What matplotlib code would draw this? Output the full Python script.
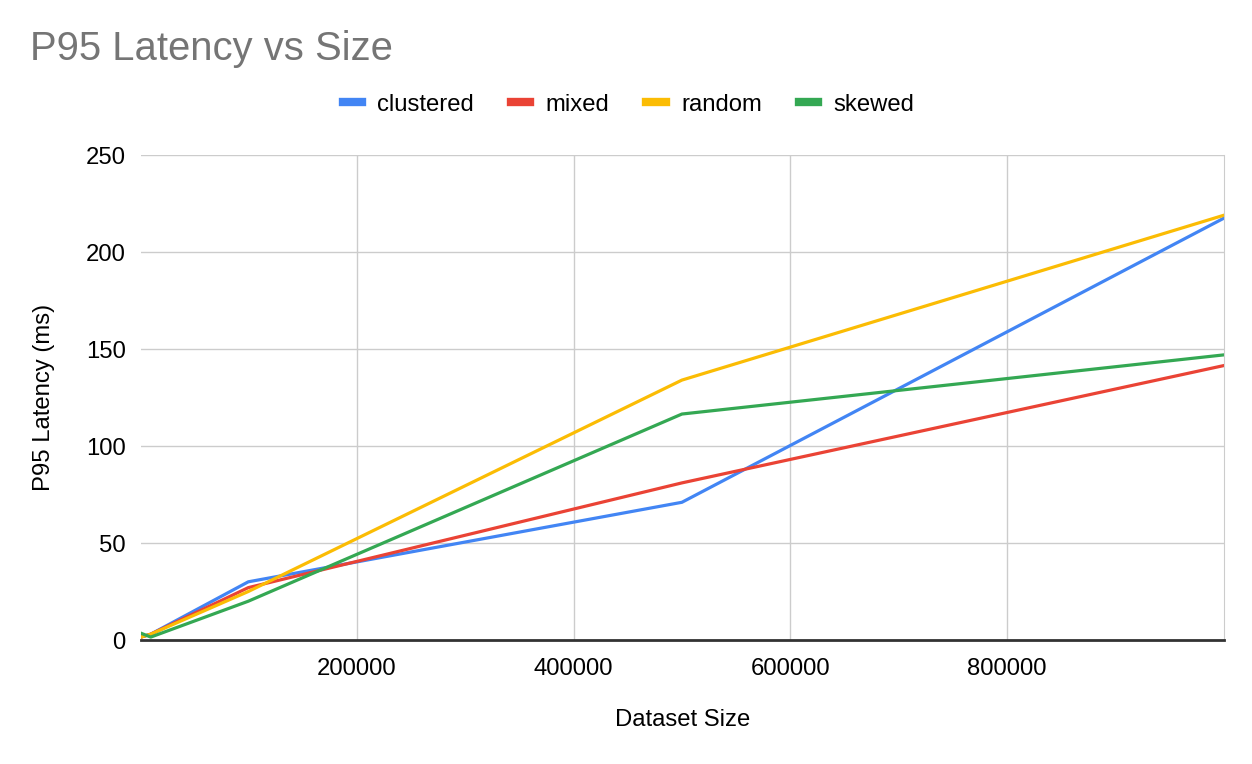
import matplotlib
matplotlib.use("Agg")
import matplotlib.pyplot as plt

plt.rcParams['font.family'] = ['Liberation Sans', 'DejaVu Sans']

sizes = [1000, 10000, 100000, 500000, 1000000]
clustered = [1.5, 3, 30, 71, 217.5]
mixed = [1.5, 3, 27, 81, 141.5]
random_ = [1.5, 3, 25, 134, 219]
skewed = [3.5, 1.5, 20, 116.5, 147]

series = [("clustered", clustered, "#4285F4"),
          ("mixed", mixed, "#EA4335"),
          ("random", random_, "#FBBC04"),
          ("skewed", skewed, "#34A853")]

fig = plt.figure(figsize=(12.52, 7.64), dpi=100)
ax = fig.add_axes([0.1126, 0.1623, 0.865, 0.6347])

for name, vals, col in series:
  ax.plot(sizes, vals, color=col, linewidth=2.3, label=name, solid_joinstyle='round')

ax.set_xlim(1000, 1000000)
ax.set_ylim(0, 250)
ax.set_xticks([200000, 400000, 600000, 800000])
ax.set_xticklabels(["200000", "400000", "600000", "800000"])
ax.set_yticks([0, 50, 100, 150, 200, 250])
ax.grid(True, color="#cccccc", linewidth=1)
ax.set_axisbelow(True)
for s in ['top', 'left']:
  ax.spines[s].set_visible(False)
ax.spines['right'].set_color("#cccccc")
ax.spines['bottom'].set_color("#333333")
ax.spines['bottom'].set_linewidth(2)
ax.tick_params(length=0, labelsize=17.2, pad=11)
ax.tick_params(axis='x', pad=13)

ax.set_xlabel("Dataset Size", fontsize=17.2, labelpad=21)
ax.set_ylabel("P95 Latency (ms)", fontsize=17.2, labelpad=22)

fig.text(0.024, 0.936, "P95 Latency vs Size", fontsize=28.8, color="#757575", va='center')

leg = fig.legend(loc='center', bbox_to_anchor=(0.502, 0.863), ncol=4, frameon=False,
                 fontsize=17.2, handlelength=0.8, handletextpad=0.65, columnspacing=1.55)
for h in leg.get_lines():
  h.set_linewidth(6)

plt.savefig("out.png", dpi=100)
